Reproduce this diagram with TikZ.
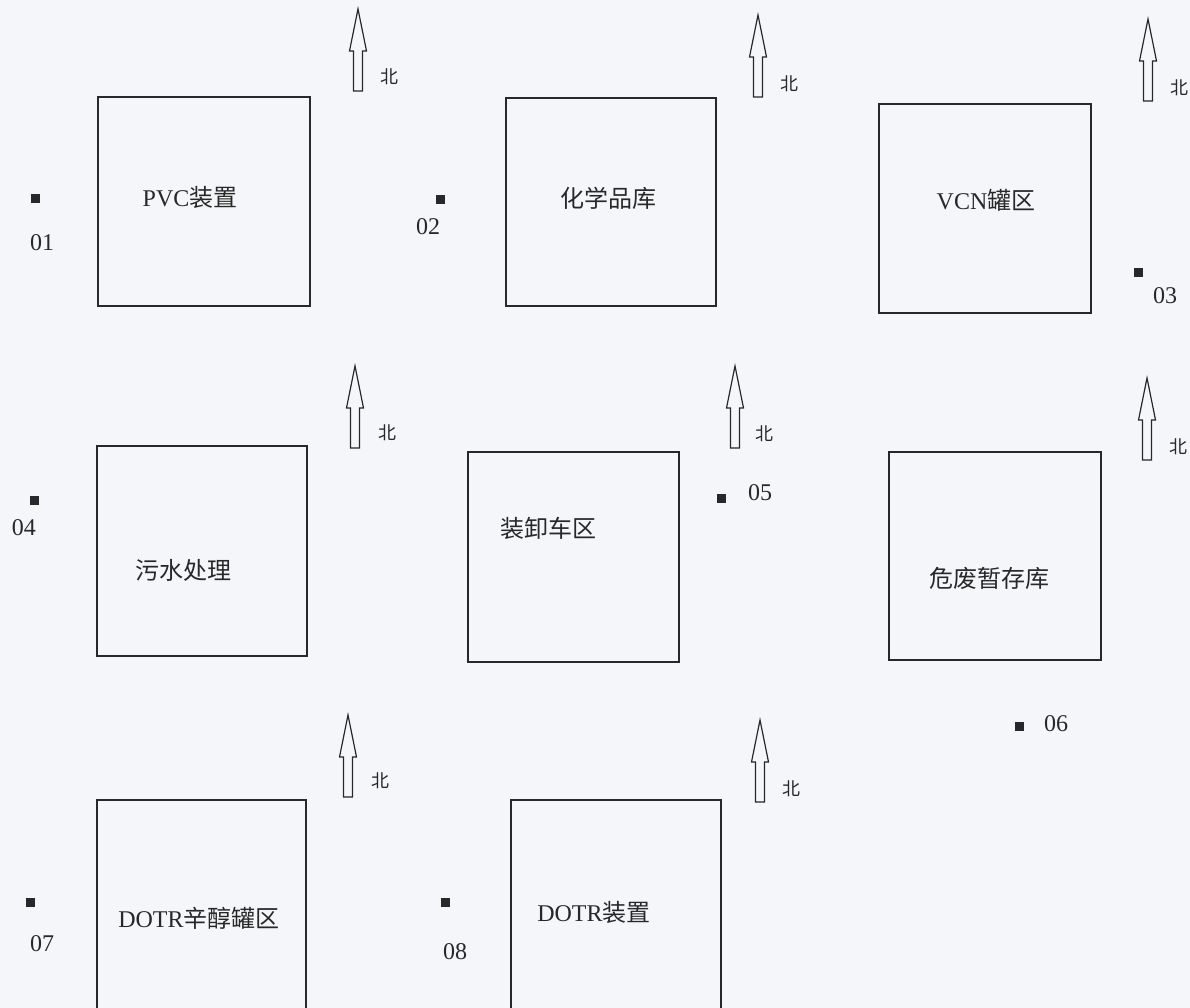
\documentclass[tikz,border=0pt]{standalone}
\usepackage{fontspec}
\setmainfont{Liberation Serif}
\newfontfamily\cjk{Noto Sans CJK SC}
\definecolor{paper}{RGB}{244,246,249}
\definecolor{ink}{RGB}{40,40,40}
\tikzset{
  area/.style={draw=ink, line width=1.3pt, fill=none},
  areatext/.style={font=\fontsize{24}{26}\selectfont, text=ink},
  pt/.style={fill=ink, minimum size=9pt, inner sep=0pt, draw=none},
  ptlabel/.style={font=\fontsize{24}{26}\selectfont, text=ink, inner sep=0pt},
  beilabel/.style={font=\cjk\fontsize{18}{19}\selectfont, text=ink, inner sep=0pt},
  northarrow/.pic={
    \draw[ink, line width=1.2pt, line join=miter] (-4.5,0) -- (-4.5,-40) -- (-8.5,-40) -- (0,-82) -- (8.5,-40) -- (4.5,-40) -- (4.5,0) -- cycle;
  }
}
\begin{document}
\begin{tikzpicture}[x=1pt,y=-1pt]
\fill[paper] (0,0) rectangle (1190,1008);
\useasboundingbox (0,0) rectangle (1190,1008);

% areas
\draw[area] (98,97) rectangle (310,306);
\node[areatext] (pvc) at (190,197) {PVC{\cjk 装置}};
\draw[area] (506,98) rectangle (716,306);
\node[areatext] (hxp) at (608,198) {\cjk 化学品库};
\draw[area] (879,104) rectangle (1091,313);
\node[areatext] (vcn) at (986,200) {VCN{\cjk 罐区}};
\draw[area] (97,446) rectangle (307,656);
\node[areatext] (wsc) at (183,570) {\cjk 污水处理};
\draw[area] (468,452) rectangle (679,662);
\node[areatext] (zxc) at (548,528) {\cjk 装卸车区};
\draw[area] (889,452) rectangle (1101,660);
\node[areatext] (wfk) at (989,578) {\cjk 危废暂存库};
\draw[area] (97,800) rectangle (306,1012);
\node[areatext] (dotrg) at (199,918) {DOTR{\cjk 辛醇罐区}};
\draw[area] (511,800) rectangle (721,1012);
\node[areatext] (dotrz) at (594,912) {DOTR{\cjk 装置}};

% north arrows
\pic at (358,91) {northarrow};
\node[beilabel] (b1) at (389,77) {北};
\pic at (758,97) {northarrow};
\node[beilabel] (b2) at (789,84) {北};
\pic at (1148,101) {northarrow};
\node[beilabel] (b3) at (1179,88) {北};
\pic at (355,448) {northarrow};
\node[beilabel] (b4) at (387,433) {北};
\pic at (735,448) {northarrow};
\node[beilabel] (b5) at (764,434) {北};
\pic at (1147,460) {northarrow};
\node[beilabel] (b6) at (1178,447) {北};
\pic at (348,797) {northarrow};
\node[beilabel] (b7) at (380,781) {北};
\pic at (760,802) {northarrow};
\node[beilabel] (b8) at (791,789) {北};

% monitoring points
\node[pt] (p1) at (35,199) {};
\node[ptlabel] (l1) at (42,243) {01};
\node[pt] (p2) at (440,200) {};
\node[ptlabel] (l2) at (428,227) {02};
\node[pt] (p3) at (1138,272) {};
\node[ptlabel] (l3) at (1165,296) {03};
\node[pt] (p4) at (34,500) {};
\node[ptlabel] (l4) at (24,528) {04};
\node[pt] (p5) at (721,498) {};
\node[ptlabel] (l5) at (760,493) {05};
\node[pt] (p6) at (1019,726) {};
\node[ptlabel] (l6) at (1056,724) {06};
\node[pt] (p7) at (30,902) {};
\node[ptlabel] (l7) at (42,944) {07};
\node[pt] (p8) at (445,902) {};
\node[ptlabel] (l8) at (455,952) {08};
\end{tikzpicture}
\end{document}
